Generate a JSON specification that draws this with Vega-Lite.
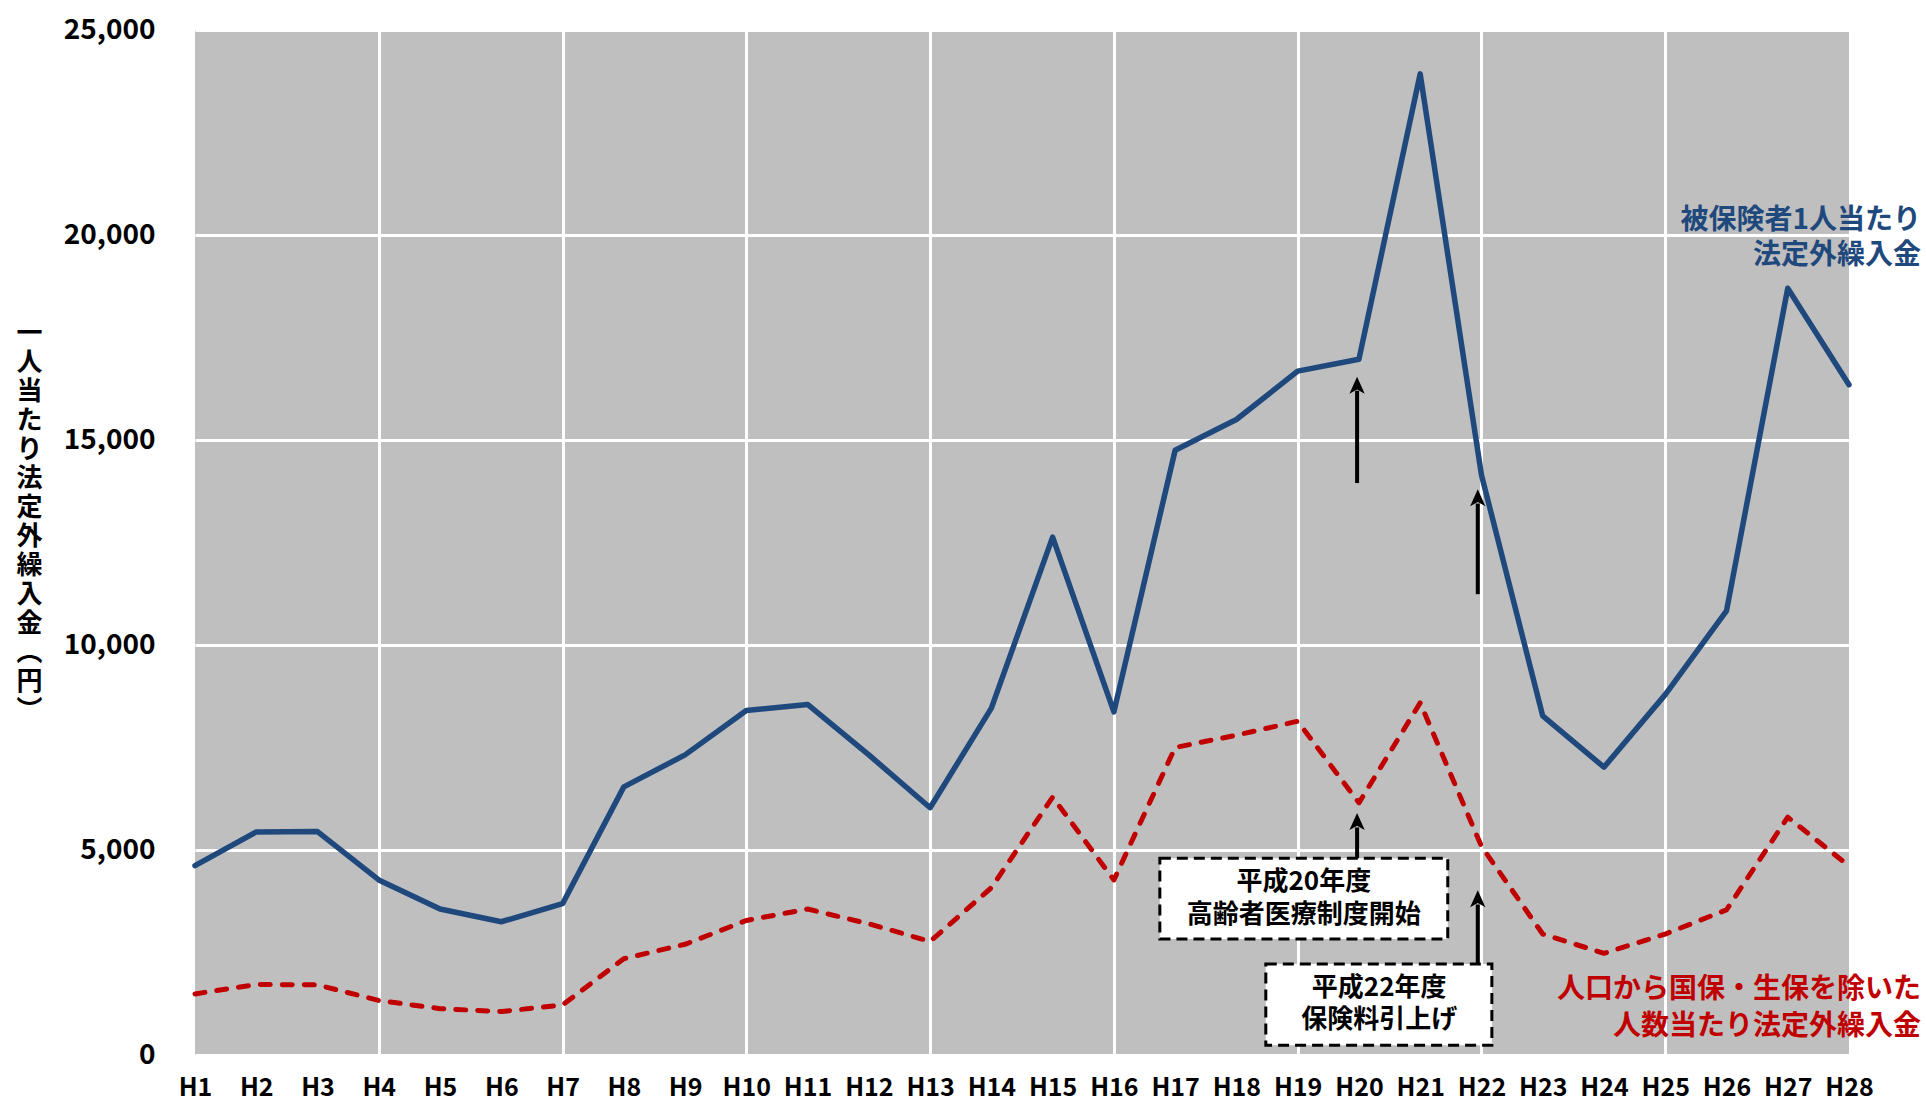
{
  "$schema": "https://vega.github.io/schema/vega-lite/v6.json",
  "width": 1654,
  "height": 1025,
  "autosize": {"type": "none"},
  "padding": {"left": 195, "top": 30, "right": 77, "bottom": 47},
  "background": "white",
  "view": {"fill": "#bfbfbf", "stroke": null},
  "config": {"font": "Noto Sans CJK JP"},
  "datasets": {
    "main": [
      {"year": 1, "series": "ins", "value": 4620}, {"year": 1, "series": "pop", "value": 1490},
      {"year": 2, "series": "ins", "value": 5440}, {"year": 2, "series": "pop", "value": 1720},
      {"year": 3, "series": "ins", "value": 5450}, {"year": 3, "series": "pop", "value": 1710},
      {"year": 4, "series": "ins", "value": 4270}, {"year": 4, "series": "pop", "value": 1330},
      {"year": 5, "series": "ins", "value": 3560}, {"year": 5, "series": "pop", "value": 1130},
      {"year": 6, "series": "ins", "value": 3250}, {"year": 6, "series": "pop", "value": 1060},
      {"year": 7, "series": "ins", "value": 3690}, {"year": 7, "series": "pop", "value": 1220},
      {"year": 8, "series": "ins", "value": 6540}, {"year": 8, "series": "pop", "value": 2350},
      {"year": 9, "series": "ins", "value": 7320}, {"year": 9, "series": "pop", "value": 2700},
      {"year": 10, "series": "ins", "value": 8400}, {"year": 10, "series": "pop", "value": 3280},
      {"year": 11, "series": "ins", "value": 8550}, {"year": 11, "series": "pop", "value": 3560},
      {"year": 12, "series": "ins", "value": 7320}, {"year": 12, "series": "pop", "value": 3200},
      {"year": 13, "series": "ins", "value": 6030}, {"year": 13, "series": "pop", "value": 2770},
      {"year": 14, "series": "ins", "value": 8460}, {"year": 14, "series": "pop", "value": 4080},
      {"year": 15, "series": "ins", "value": 12630}, {"year": 15, "series": "pop", "value": 6290},
      {"year": 16, "series": "ins", "value": 8370}, {"year": 16, "series": "pop", "value": 4270},
      {"year": 17, "series": "ins", "value": 14750}, {"year": 17, "series": "pop", "value": 7500},
      {"year": 18, "series": "ins", "value": 15500}, {"year": 18, "series": "pop", "value": 7800},
      {"year": 19, "series": "ins", "value": 16680}, {"year": 19, "series": "pop", "value": 8140},
      {"year": 20, "series": "ins", "value": 16970}, {"year": 20, "series": "pop", "value": 6150},
      {"year": 21, "series": "ins", "value": 23930}, {"year": 21, "series": "pop", "value": 8590},
      {"year": 22, "series": "ins", "value": 14150}, {"year": 22, "series": "pop", "value": 5090},
      {"year": 23, "series": "ins", "value": 8270}, {"year": 23, "series": "pop", "value": 2950},
      {"year": 24, "series": "ins", "value": 7020}, {"year": 24, "series": "pop", "value": 2480},
      {"year": 25, "series": "ins", "value": 8790}, {"year": 25, "series": "pop", "value": 2950},
      {"year": 26, "series": "ins", "value": 10830}, {"year": 26, "series": "pop", "value": 3540},
      {"year": 27, "series": "ins", "value": 18700}, {"year": 27, "series": "pop", "value": 5800},
      {"year": 28, "series": "ins", "value": 16350}, {"year": 28, "series": "pop", "value": 4610}
    ],
    "shafts": [
      {"year": 19.97, "value": 13950, "value2": 16200},
      {"year": 21.94, "value": 11240, "value2": 13450},
      {"year": 19.97, "value": 4800, "value2": 5550},
      {"year": 21.94, "value": 2220, "value2": 3670}
    ],
    "heads": [
      {"year": 19.97, "value": 16540},
      {"year": 21.94, "value": 13800},
      {"year": 19.97, "value": 5900},
      {"year": 21.94, "value": 4020}
    ],
    "boxes": [
      {"year": 16.75, "year2": 21.45, "value": 2830, "value2": 4800},
      {"year": 18.48, "year2": 22.17, "value": 240, "value2": 2220}
    ],
    "boxText": [
      {"year": 19.1, "value": 4220, "text": "平成20年度"},
      {"year": 19.1, "value": 3410, "text": "高齢者医療制度開始"},
      {"year": 20.33, "value": 1630, "text": "平成22年度"},
      {"year": 20.33, "value": 850, "text": "保険料引上げ"}
    ],
    "sideText": [
      {"year": 28, "value": 20340, "text": "被保険者1人当たり", "kind": "ins"},
      {"year": 28, "value": 19500, "text": "法定外繰入金", "kind": "ins"},
      {"year": 28, "value": 1585, "text": "人口から国保・生保を除いた", "kind": "pop"},
      {"year": 28, "value": 680, "text": "人数当たり法定外繰入金", "kind": "pop"}
    ]
  },
  "encoding": {
    "x": {
      "field": "year", "type": "quantitative",
      "scale": {"domain": [1, 28], "nice": false, "zero": false},
      "axis": {
        "values": [1,2,3,4,5,6,7,8,9,10,11,12,13,14,15,16,17,18,19,20,21,22,23,24,25,26,27,28],
        "labelExpr": "'H' + datum.value",
        "domain": false, "ticks": false, "labelPadding": 20,
        "labelFontSize": 25, "labelFontWeight": "bold", "labelColor": "#000",
        "labelBaseline": "top", "labelFlush": false, "labelOverlap": false,
        "grid": true, "gridColor": "white", "gridWidth": 3,
        "gridOpacity": {"condition": {"test": "datum.value % 3 === 1 && datum.value > 1 && datum.value < 28", "value": 1}, "value": 0},
        "title": null
      }
    },
    "y": {
      "field": "value", "type": "quantitative",
      "scale": {"domain": [0, 25000], "nice": false},
      "axis": {
        "values": [0, 5000, 10000, 15000, 20000, 25000],
        "format": ",d", "domain": false, "ticks": false, "labelPadding": 40,
        "labelFontSize": 28, "labelFontWeight": "bold", "labelColor": "#000",
        "labelFlush": false, "labelOverlap": false,
        "grid": true, "gridColor": "white", "gridWidth": 3, "gridOpacity": 1,
        "title": ["一","人","当","た","り","法","定","外","繰","入","金","︵","円","︶"],
        "titleAngle": 0, "titleAlign": "center", "titleBaseline": "top",
        "titleX": -166, "titleY": 290, "titleFontSize": 26, "titleLineHeight": 29,
        "titleFontWeight": "bold", "titleColor": "#000"
      }
    }
  },
  "layer": [
    {
      "data": {"name": "main"},
      "transform": [{"filter": "datum.series === 'pop'"}],
      "mark": {"type": "line", "color": "#C00000", "strokeWidth": 5, "strokeDash": [10, 12], "strokeCap": "round", "strokeJoin": "round"}
    },
    {
      "data": {"name": "main"},
      "transform": [{"filter": "datum.series === 'ins'"}],
      "mark": {"type": "line", "color": "#1F497D", "strokeWidth": 5.5, "strokeJoin": "round", "strokeCap": "round"}
    },
    {
      "data": {"name": "boxes"},
      "mark": {"type": "rect", "fill": "white", "stroke": "black", "strokeWidth": 3, "strokeDash": [11, 6]},
      "encoding": {
        "x2": {"field": "year2"},
        "y2": {"field": "value2"}
      }
    },
    {
      "data": {"name": "shafts"},
      "mark": {"type": "rule", "color": "black", "strokeWidth": 4},
      "encoding": {
        "y2": {"field": "value2"}
      }
    },
    {
      "data": {"name": "heads"},
      "mark": {"type": "point", "shape": "M0,0L0.9,2L0,1.5L-0.9,2Z", "size": 289, "filled": true, "color": "black", "opacity": 1, "strokeWidth": 0}
    },
    {
      "data": {"name": "boxText"},
      "mark": {"type": "text", "align": "center", "baseline": "middle", "fontSize": 26, "fontWeight": "bold", "color": "#000"},
      "encoding": {
        "text": {"field": "text"}
      }
    },
    {
      "data": {"name": "sideText"},
      "mark": {"type": "text", "align": "right", "baseline": "middle", "dx": 72, "fontSize": 28, "fontWeight": "bold"},
      "encoding": {
        "text": {"field": "text"},
        "color": {"field": "kind", "type": "nominal", "scale": {"domain": ["ins", "pop"], "range": ["#1F497D", "#C00000"]}, "legend": null}
      }
    }
  ]
}
